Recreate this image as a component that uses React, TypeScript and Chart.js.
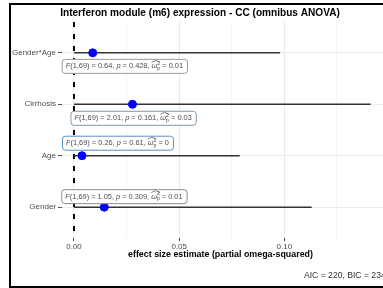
import React, { useEffect, useRef } from "react";
import { Chart, registerables } from "chart.js";
Chart.register(...registerables);

const terms = ["Gender", "Age", "Cirrhosis", "Gender*Age"];
const estimates = [0.0144, 0.0038, 0.0278, 0.0089];
const ciLow = [0, 0, 0, 0];
const ciHigh = [0.113, 0.0788, 0.141, 0.098];
const fStats = ["1.05", "0.26", "2.01", "0.64"];
const pValues = ["0.309", "0.61", "0.161", "0.428"];
const omegaLabels = ["0.01", "0", "0.03", "0.01"];
const dfLabel = "1,69";
const xTickValues = [0, 0.025, 0.05, 0.075, 0.1, 0.125];
const titleText = "Interferon module (m6) expression - CC (omnibus ANOVA)";
const xTitleText = "effect size estimate (partial omega-squared)";
const captionText = "AIC = 220, BIC = 234";

const FONT = "'Liberation Sans', Arial, Helvetica, sans-serif";

// label box placement (pixel offsets from the point) and border colours
const labelStyle = [
  { dx: -43, dy: -11, border: "#8c8c8c" },
  { dx: -20, dy: -13, border: "#5b8ec4" },
  { dx: -62, dy: 13.5, border: "#7f98ad" },
  { dx: -31, dy: 13, border: "#9a9a9a" },
];

const isMajor = (v: number) => Math.abs(v / 0.05 - Math.round(v / 0.05)) < 1e-6;

function drawLabel(ctx: CanvasRenderingContext2D, px: number, py: number, i: number) {
  const st = labelStyle[i];
  const size = 7.4;
  const normal = `${size}px ${FONT}`;
  const italic = `italic ${size}px ${FONT}`;
  const small = `${size * 0.7}px ${FONT}`;
  const segs: { t: string; f: string; dy?: number; hatStart?: boolean; hatEnd?: boolean; noAdv?: boolean }[] = [
    { t: "F", f: italic },
    { t: `(${dfLabel}) = ${fStats[i]}, `, f: normal },
    { t: "p", f: italic },
    { t: ` = ${pValues[i]}, `, f: normal },
    { t: "ω", f: italic, hatStart: true },
    { t: "2", f: small, dy: -3, noAdv: true },
    { t: "p", f: small, dy: 2, hatEnd: true },
    { t: ` = ${omegaLabels[i]}`, f: normal },
  ];
  let w = 0;
  const widths: number[] = [];
  segs.forEach((s) => {
    ctx.font = s.f;
    const m = ctx.measureText(s.t).width;
    widths.push(m);
    if (!s.noAdv) w += m;
  });
  const padX = 4;
  const h = 14;
  const x0 = px + st.dx;
  const yc = py + st.dy;
  const bw = w + padX * 2;
  ctx.save();
  ctx.beginPath();
  ctx.roundRect(x0 + 0.5, yc - h / 2 + 0.5, bw, h, 3);
  ctx.fillStyle = "#ffffff";
  ctx.fill();
  ctx.strokeStyle = st.border;
  ctx.lineWidth = 1;
  ctx.stroke();
  ctx.fillStyle = "#4d4d4d";
  ctx.textBaseline = "middle";
  ctx.textAlign = "left";
  let x = x0 + padX;
  let hatX0 = 0;
  segs.forEach((s, k) => {
    ctx.font = s.f;
    if (s.hatStart) hatX0 = x;
    ctx.fillText(s.t, x, yc + 0.5 + (s.dy || 0));
    if (!s.noAdv) x += widths[k];
    if (s.hatEnd) {
      ctx.beginPath();
      ctx.strokeStyle = "#4d4d4d";
      ctx.lineWidth = 0.7;
      const hy = yc - 5;
      ctx.moveTo(hatX0, hy + 1.5);
      ctx.lineTo((hatX0 + x) / 2, hy - 0.5);
      ctx.lineTo(x, hy + 1.5);
      ctx.stroke();
    }
  });
  ctx.restore();
}

const decor = {
  id: "decor",
  beforeDraw(chart: any) {
    const ctx = chart.ctx as CanvasRenderingContext2D;
    ctx.save();
    ctx.fillStyle = "#ffffff";
    ctx.fillRect(0, 0, chart.width, chart.height);
    ctx.restore();
  },
  afterDatasetsDraw(chart: any) {
    const ctx = chart.ctx as CanvasRenderingContext2D;
    const xs = chart.scales.x;
    const ys = chart.scales.y;
    terms.forEach((_, i) => {
      drawLabel(ctx, xs.getPixelForValue(estimates[i]), ys.getPixelForValue(i + 1), i);
    });
  },
  afterDraw(chart: any) {
    const ctx = chart.ctx as CanvasRenderingContext2D;
    ctx.save();
    ctx.fillStyle = "#000000";
    ctx.textBaseline = "middle";
    ctx.textAlign = "center";
    ctx.font = `bold 10.1px ${FONT}`;
    ctx.fillText(titleText, 200, 13.5);
    ctx.font = `bold 8.9px ${FONT}`;
    ctx.fillText(xTitleText, 220.5, 255);
    ctx.textAlign = "left";
    ctx.fillStyle = "#333333";
    ctx.font = `8.6px ${FONT}`;
    ctx.fillText(captionText, 304, 275.5);
    ctx.restore();
  },
};

export default function App() {
  const ref = useRef<HTMLCanvasElement>(null);
  useEffect(() => {
    if (!ref.current) return;
    const yMin = 0.4;
    const yMax = terms.length + 0.6;
    const ciSets = terms.map((_, i) => ({
      type: "line" as const,
      data: [
        { x: ciLow[i], y: i + 1 },
        { x: ciHigh[i], y: i + 1 },
      ],
      borderColor: "#333333",
      borderWidth: 1.5,
      pointRadius: 0,
      order: 2,
    }));
    const chart = new Chart(ref.current, {
      type: "scatter",
      data: {
        datasets: [
          {
            type: "line" as const,
            data: [
              { x: 0, y: yMax },
              { x: 0, y: yMin },
            ],
            borderColor: "#000000",
            borderWidth: 2,
            borderDash: [5, 7],
            pointRadius: 0,
            order: 3,
          },
          ...ciSets,
          {
            type: "scatter" as const,
            data: estimates.map((e, i) => ({ x: e, y: i + 1 })),
            backgroundColor: "#0000ff",
            borderColor: "#0000ff",
            pointRadius: 4,
            order: 1,
          },
        ] as any,
      },
      options: {
        responsive: false,
        animation: false,
        devicePixelRatio: 1,
        layout: { autoPadding: false, padding: { top: 22, right: 0, left: 0, bottom: 0 } },
        plugins: { legend: { display: false }, tooltip: { enabled: false }, title: { display: false } },
        scales: {
          x: {
            type: "linear",
            min: -0.0057,
            max: 0.1469,
            afterBuildTicks: (s: any) => {
              s.ticks = xTickValues.map((v) => ({ value: v }));
            },
            afterFit: (s: any) => {
              s.height = 50;
              s.paddingLeft = 0;
              s.paddingRight = 0;
            },
            border: { display: false },
            grid: {
              color: (c: any) => (c.tick && isMajor(c.tick.value) ? "#e8e8e8" : "#f3f3f3"),
              tickColor: (c: any) => (c.tick && isMajor(c.tick.value) ? "#444444" : "rgba(0,0,0,0)"),
              tickLength: 3,
              lineWidth: 1,
            },
            ticks: {
              autoSkip: false,
              maxRotation: 0,
              padding: 1,
              color: "#4d4d4d",
              font: { family: FONT, size: 8 },
              callback: (v: any) => (isMajor(Number(v)) ? Number(v).toFixed(2) : ""),
            },
          },
          y: {
            type: "linear",
            min: yMin,
            max: yMax,
            afterBuildTicks: (s: any) => {
              s.ticks = terms.map((_, i) => ({ value: i + 1 }));
            },
            afterFit: (s: any) => {
              s.width = 62;
              s.paddingTop = 0;
              s.paddingBottom = 0;
            },
            border: { display: false },
            grid: {
              color: "#ebebeb",
              tickColor: "#555555",
              tickLength: 4,
              lineWidth: 1,
            },
            ticks: {
              autoSkip: false,
              padding: 2,
              color: "#4d4d4d",
              font: { family: FONT, size: 8 },
              callback: (v: any) => terms[Math.round(Number(v)) - 1] ?? "",
            },
          },
        },
      },
      plugins: [decor],
    });
    return () => chart.destroy();
  }, []);
  return (
    <div style={{ position: "fixed", left: 0, top: 0, width: 383, height: 288, overflow: "hidden", background: "#fff" }}>
      <canvas ref={ref} width={383} height={288} style={{ display: "block" }} />
      <div
        style={{
          position: "absolute",
          left: 9,
          top: 3,
          width: 500,
          height: 281,
          border: "2px solid #000",
          boxSizing: "content-box",
          pointerEvents: "none",
        }}
      />
    </div>
  );
}
